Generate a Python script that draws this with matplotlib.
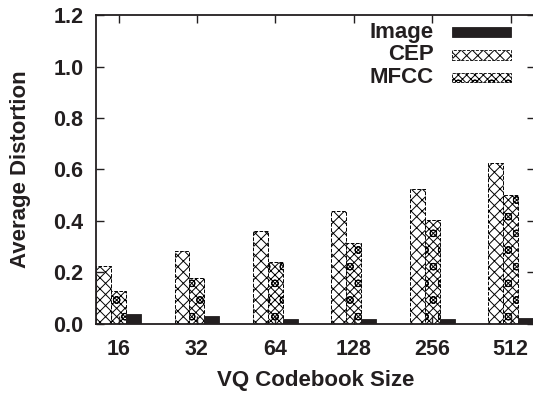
import matplotlib
matplotlib.use('Agg')
import matplotlib.pyplot as plt
from matplotlib.patches import Rectangle
import numpy as np

sizes = ['16', '32', '64', '128', '256', '512']
cep = [0.225, 0.285, 0.361, 0.439, 0.524, 0.625]
mfcc = [0.129, 0.179, 0.242, 0.316, 0.404, 0.500]
image = [0.040, 0.032, 0.021, 0.018, 0.019, 0.023]

plt.rcParams['font.family'] = ['Liberation Sans', 'DejaVu Sans']
plt.rcParams['font.weight'] = 'bold'
plt.rcParams['hatch.linewidth'] = 0.7

fig = plt.figure(figsize=(5.33, 3.94), dpi=100)
ax = fig.add_axes([0.1801, 0.1777, 0.8237, 0.7842])

x = np.arange(len(sizes))
w = 0.19
ax.bar(x - w, cep, w, color='white', edgecolor='black', hatch='xxx',
       linestyle='--', linewidth=0.7)
ax.bar(x, mfcc, w, color='white', edgecolor='black', hatch='xxxxo',
       linestyle='--', linewidth=0.7)
ax.bar(x + w, image, w, color='#231f20', edgecolor='#231f20', linewidth=0.6)

ax.set_xlim(-0.287, 5.31)
ax.set_ylim(0, 1.2)
ax.set_xticks(x)
ax.set_xticklabels(sizes)
ax.set_yticks(np.arange(0, 1.21, 0.2))
ax.set_yticklabels(['%.1f' % v for v in np.arange(0, 1.21, 0.2)])
ax.tick_params(direction='in', length=6, width=1, top=True, right=True,
               labelsize=15.5, colors='#231f20')
ax.tick_params(axis='y', pad=9)
ax.tick_params(axis='x', pad=11)
for s in ax.spines.values():
    s.set_linewidth(1.3)
    s.set_color('#231f20')

ax.set_xlabel('VQ Codebook Size', fontsize=16, fontweight='bold', labelpad=7,
              color='#231f20')
ax.set_ylabel('Average Distortion', fontsize=16, fontweight='bold', labelpad=16,
              color='#231f20')

# gnuplot style key: right-aligned labels followed by sample boxes
labels = ['Image', 'CEP', 'MFCC']
styles = [dict(facecolor='#231f20', edgecolor='#231f20', hatch=None),
          dict(facecolor='white', edgecolor='black', hatch='xxx', linestyle='--'),
          dict(facecolor='white', edgecolor='black', hatch='xxxxo', linestyle='--')]
for i, (lab, st) in enumerate(zip(labels, styles)):
    yc = 0.945 - i * 0.074
    ax.text(0.77, yc, lab, transform=ax.transAxes, ha='right', va='center',
            fontsize=16, fontweight='bold', color='#231f20')
    ax.add_patch(Rectangle((0.8105, yc - 0.015), 0.135, 0.03, transform=ax.transAxes,
                           linewidth=0.6, **st))

fig.savefig('out.png', dpi=100)
